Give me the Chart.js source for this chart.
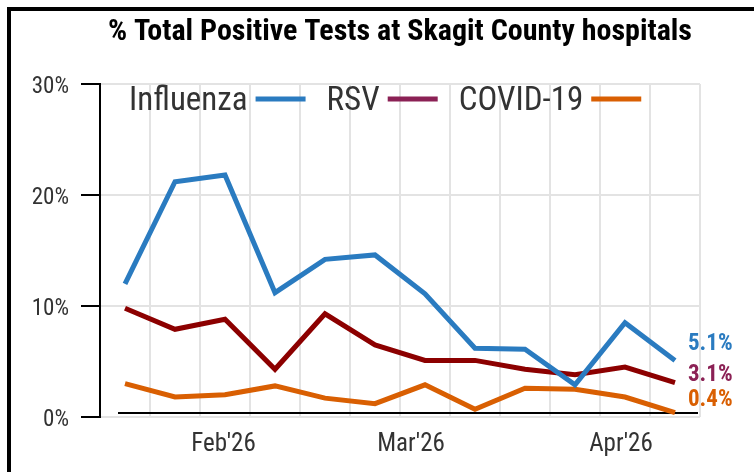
<!DOCTYPE html>
<html>
<head>
<meta charset="utf-8">
<script src="https://cdn.jsdelivr.net/npm/chart.js@4.4.1/dist/chart.umd.min.js"></script>
<style>
body { margin: 0; background: #fff; }
#frame { position: absolute; left: 7px; top: 7px; width: 900px; height: 600px; border-left: 4px solid #000; border-top: 4px solid #000; }
#wrap { position: absolute; left: 0; top: 0; width: 754px; height: 472px; }
</style>
</head>
<body>
<div id="frame"></div>
<div id="wrap"><canvas id="myChart" width="754" height="472"></canvas></div>
<script>
// weekly data, % positive
const weeks = ['Jan 19','Jan 26','Feb 2','Feb 9','Feb 16','Feb 23','Mar 2','Mar 9','Mar 16','Mar 23','Mar 30','Apr 6'];
const influenza = [12.0, 21.2, 21.8, 11.2, 14.2, 14.6, 11.1, 6.2, 6.1, 2.9, 8.5, 5.1];
const rsv = [9.8, 7.9, 8.8, 4.3, 9.3, 6.5, 5.1, 5.1, 4.3, 3.8, 4.5, 3.1];
const covid = [3.0, 1.8, 2.0, 2.8, 1.7, 1.2, 2.9, 0.7, 2.6, 2.5, 1.8, 0.4];

// month labels sit between the weekly gridlines
const monthLabels = ["Feb'26", "Mar'26", "Apr'26"];
const monthPos = [1.97, 5.72, 9.92];

const yTicks = [0, 10, 20, 30];

const FONT = "'Roboto Condensed', 'Liberation Sans Narrow', Roboto, sans-serif";

const series = [
  { name: 'Influenza', data: influenza, line: '#2a7bc0', key: '#2a7bc0' },
  { name: 'RSV', data: rsv, line: '#8c0000', key: '#8b2155' },
  { name: 'COVID-19', data: covid, line: '#d95f02', key: '#d95f02' }
];
const labelDy = [-16, -7, -12];

const extras = {
  id: 'extras',
  beforeDatasetsDraw(chart) {
    const { ctx, chartArea, scales } = chart;
    const y = scales.y.getPixelForValue(0) - 4;
    ctx.save();
    ctx.strokeStyle = '#000';
    ctx.lineWidth = 2;
    ctx.beginPath();
    ctx.moveTo(chartArea.left + 18, y);
    ctx.lineTo(chartArea.right - 2, y);
    ctx.stroke();
    ctx.restore();
  },
  afterDatasetsDraw(chart) {
    const { ctx, chartArea, scales } = chart;
    ctx.save();
    // legend: text then line key
    ctx.font = '33px ' + FONT;
    ctx.textBaseline = 'alphabetic';
    let x = chartArea.left + 29;
    series.forEach(s => {
      ctx.fillStyle = '#333';
      ctx.fillText(s.name, x, 110);
      x += ctx.measureText(s.name).width + 8;
      ctx.strokeStyle = s.key;
      ctx.lineWidth = 5;
      ctx.beginPath();
      ctx.moveTo(x, 99);
      ctx.lineTo(x + 50, 99);
      ctx.stroke();
      x += 50 + 21;
    });
    // end labels
    ctx.font = 'bold 23px ' + FONT;
    ctx.textBaseline = 'middle';
    series.forEach((s, i) => {
      const last = s.data.length - 1;
      const px = scales.x.getPixelForValue(last) + 13;
      const py = scales.y.getPixelForValue(s.data[last]) + labelDy[i];
      ctx.fillStyle = s.key;
      ctx.fillText(s.data[last].toFixed(1) + '%', px, py);
    });
    ctx.restore();
  }
};

new Chart(document.getElementById('myChart'), {
  type: 'line',
  data: {
    datasets: series.map(s => ({
      label: s.name,
      data: s.data.map((v, i) => ({ x: i, y: v })),
      borderColor: s.line,
      borderWidth: 5,
      pointRadius: 0,
      tension: 0,
      fill: false
    }))
  },
  options: {
    responsive: false,
    devicePixelRatio: 1,
    animation: false,
    layout: { padding: { top: 0, left: 0, right: 54, bottom: 0 } },
    plugins: {
      legend: { display: false },
      tooltip: { enabled: false },
      title: {
        display: true,
        text: '% Total Positive Tests at Skagit County hospitals',
        fullSize: false,
        color: '#000',
        font: { family: FONT, size: 30, weight: 'bold', lineHeight: 1.2 },
        padding: { top: 14, bottom: 34 }
      }
    },
    scales: {
      x: {
        type: 'linear',
        min: -0.5,
        max: 11.5,
        afterFit: s => { s.height = 0; },
        ticks: { display: false, stepSize: 1, includeBounds: false },
        grid: { color: '#e3e3e3', lineWidth: 2, drawTicks: false },
        border: { display: false }
      },
      xm: {
        type: 'linear',
        position: 'bottom',
        min: -0.5,
        max: 11.5,
        afterFit: s => { s.height = 55; },
        afterBuildTicks: s => { s.ticks = monthPos.map(v => ({ value: v })); },
        ticks: {
          callback: (v, i) => monthLabels[i],
          color: '#333',
          font: { family: FONT, size: 25 },
          padding: 13,
          maxRotation: 0,
          autoSkip: false
        },
        grid: { display: false, drawTicks: false },
        border: { display: false }
      },
      y: {
        min: 0,
        max: 30,
        afterFit: s => { s.width = 100; },
        afterBuildTicks: s => { s.ticks = yTicks.map(v => ({ value: v })); },
        ticks: {
          callback: v => v + '%',
          color: '#333',
          font: { family: FONT, size: 23 },
          padding: 12,
          labelOffset: 3
        },
        grid: { color: '#e3e3e3', lineWidth: 2, tickColor: '#000', tickLength: 19, tickWidth: 2 },
        border: { color: '#000', width: 2 }
      }
    }
  },
  plugins: [extras]
});
</script>
</body>
</html>
